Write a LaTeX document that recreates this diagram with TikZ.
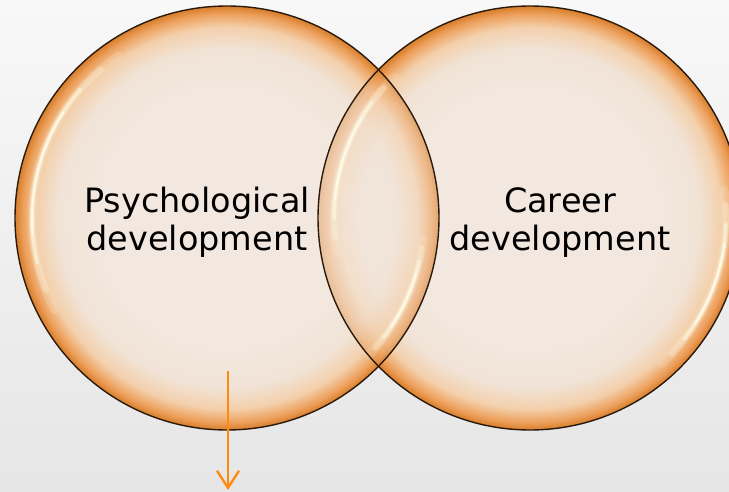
\documentclass[tikz,border=0pt]{standalone}
\usepackage{fontspec}
\setmainfont{DejaVu Sans}
\usetikzlibrary{arrows.meta}

% palette
\definecolor{bgtop}{HTML}{F8F8F8}
\definecolor{bgbot}{HTML}{E6E6E6}
\definecolor{bubblecore}{HTML}{F3E8DF}
\definecolor{bubblemid}{HTML}{F1E3D6}
\definecolor{bubblewarm}{HTML}{F3D0AC}
\definecolor{bubblerim}{HTML}{EDA05C}
\definecolor{bubbleedge}{HTML}{D9812F}
\definecolor{glintcol}{HTML}{FFFBE6}
\definecolor{outlinecol}{HTML}{2A1A0C}
\definecolor{arrowcol}{HTML}{FF8A10}

% glossy disc: cream centre fading into an orange rim
% (the disc edge sits at 25bp of the shading)
\pgfdeclareradialshading{bubble}{\pgfpoint{0bp}{0bp}}{%
  color(0bp)=(bubblecore);
  color(15bp)=(bubblecore);
  color(20bp)=(bubblemid);
  color(22.5bp)=(bubblewarm);
  color(24.1bp)=(bubblerim);
  color(24.9bp)=(bubbleedge);
  color(50bp)=(bubbleedge)}

\tikzset{
  disc/.style={shading=bubble},
  rimline/.style={draw=outlinecol, line width=1.4pt},
  glintline/.style={draw=glintcol, line cap=round},
  labeltext/.style={font=\fontsize{33.5}{38.3}\selectfont, align=center,
                    inner sep=0pt, text=black},
  flowarrow/.style={draw=arrowcol, line width=2.6pt,
                    -{Straight Barb[length=17pt, width=22pt, line width=2.4pt]}}
}

% soft white reflection along an arc: centre, radius, start angle, end angle
\newcommand\glint[4]{%
  \foreach \f/\w/\o in {1/9/0.15, 0.85/6/0.3, 0.65/3.5/0.55, 0.45/2/0.9}{%
    \pgfmathsetmacro\ga{(#3+#4)/2-\f*(#4-#3)/2}%
    \pgfmathsetmacro\gb{(#3+#4)/2+\f*(#4-#3)/2}%
    \draw[glintline, line width=\w pt, draw opacity=\o]
      ([shift={(\ga:#2)}]#1) arc[start angle=\ga, end angle=\gb, radius=#2];
  }}

\begin{document}
\begin{tikzpicture}[x=1pt, y=1pt]
  % backdrop
  \shade[top color=bgtop, bottom color=bgbot] (0,0) rectangle (729,491);
  \useasboundingbox (0,0) rectangle (729,491);

  \coordinate (cl) at (227,273);
  \coordinate (cr) at (530,273);

  % the two discs
  \shade[disc] (cl) circle[radius=212];
  \shade[disc] (cr) circle[radius=212];
  % let the left disc show through the overlap
  \begin{scope}
    \clip (cr) circle[radius=212];
    \shade[disc, opacity=0.62] (cl) circle[radius=212];
  \end{scope}

  % reflections
  \glint{cl}{195}{124}{208}
  \glint{cl}{197}{-44}{-6}
  \glint{cr}{196}{134}{190}
  \glint{cr}{196}{-48}{8}

  % outlines
  \draw[rimline] (cl) circle[radius=212];
  \draw[rimline] (cr) circle[radius=212];

  % labels
  \node[labeltext] (psy) at (197,269) {Psychological\\development};
  \node[labeltext] (car) at (560,268.5) {Career\\development};

  % downward arrow
  \coordinate (arrowtop) at (228,120);
  \coordinate (arrowtip) at (228,1);
  \draw[flowarrow] (arrowtop) -- (arrowtip);
\end{tikzpicture}
\end{document}
